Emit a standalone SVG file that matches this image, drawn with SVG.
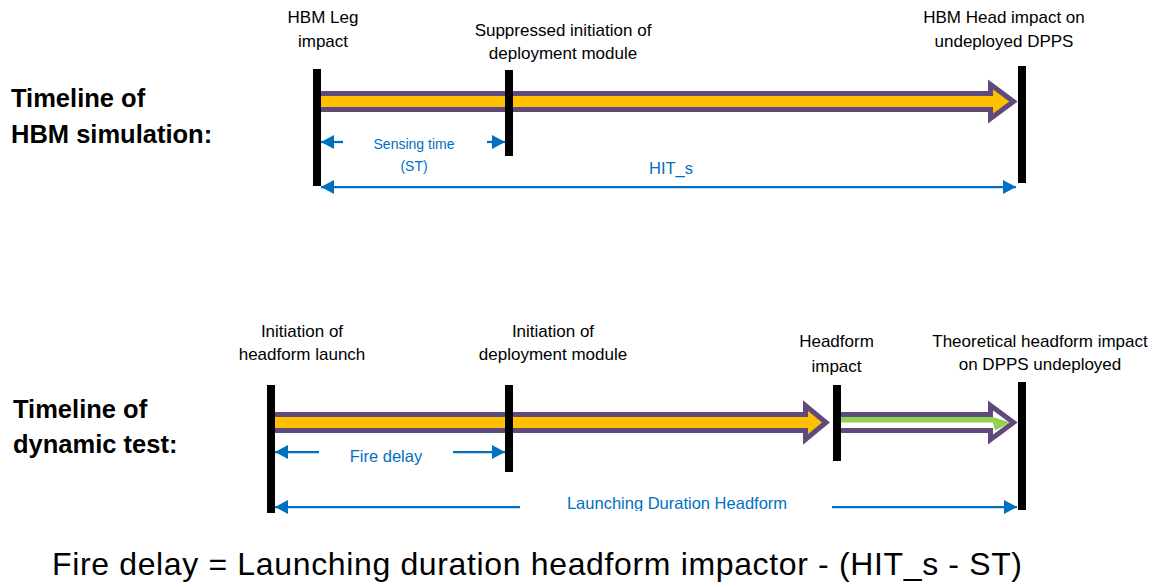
<svg xmlns="http://www.w3.org/2000/svg" width="1159" height="587" viewBox="0 0 1159 587">
  <style>
    .lbl { font-family: "Liberation Sans", Arial, sans-serif; font-size: 17px; fill: #000; text-anchor: middle; }
    .title { font-family: "Liberation Sans", Arial, sans-serif; font-size: 25.5px; font-weight: bold; fill: #000; }
    .dim { font-family: "Liberation Sans", Arial, sans-serif; fill: #0070C0; text-anchor: middle; }
    .bar { fill: #000; }
    .band { stroke: #604A7B; stroke-width: 5; stroke-linejoin: miter; stroke-miterlimit: 10; }
    .dline { stroke: #0070C0; stroke-width: 2.25; fill: none; }
    .eq { font-family: "Liberation Sans", Arial, sans-serif; font-size: 32px; fill: #000; }
  </style>
  <defs>
    <marker id="ah" viewBox="0 0 13 14" refX="13" refY="7" markerWidth="13" markerHeight="14" markerUnits="userSpaceOnUse" orient="auto-start-reverse">
      <path d="M0,0 L13,7 L0,14 Z" fill="#0070C0"/>
    </marker>
    <clipPath id="clipLD">
      <rect x="0" y="0" width="1159" height="511"/>
    </clipPath>
  </defs>
  <rect width="1159" height="587" fill="#fff"/>

  <!-- Titles -->
  <g id="title-hbm">
    <text class="title" x="11" y="107">Timeline of</text>
    <text class="title" x="11" y="143">HBM simulation:</text>
  </g>
  <g id="title-dynamic">
    <text class="title" x="13" y="418">Timeline of</text>
    <text class="title" x="13" y="453">dynamic test:</text>
  </g>

  <!-- Connectors: timeline bands and dimension arrows -->
  <g id="connectors">
    <!-- HBM band -->
    <path class="band" fill="#FFC000" d="M318,93.5 H990.5 V84.5 L1013.5,101.5 L990.5,118.5 V109.5 H318 Z"/>
    <!-- dynamic test: yellow band -->
    <path class="band" fill="#FFC000" d="M272,414.5 H805.5 V405.5 L826,422.5 L805.5,439.5 V430.5 H272 Z"/>
    <!-- dynamic test: green band -->
    <path class="band" fill="#FFFFFF" d="M836,414.5 H990.5 V405.5 L1013.5,422.5 L990.5,439.5 V430.5 H836 Z"/>
    <polygon fill="#92D050" points="841,417 993,417 1010,422.5 995,430.5 993,422.5 841,422.5"/>

    <!-- Sensing time -->
    <line class="dline" x1="343" y1="142" x2="321" y2="142" marker-end="url(#ah)"/>
    <line class="dline" x1="487" y1="142" x2="505" y2="142" marker-end="url(#ah)"/>
    <!-- HIT_s -->
    <line class="dline" x1="321" y1="187" x2="1016" y2="187" marker-start="url(#ah)" marker-end="url(#ah)"/>
    <!-- Fire delay -->
    <line class="dline" x1="319" y1="452" x2="275" y2="452" marker-end="url(#ah)"/>
    <line class="dline" x1="453" y1="452" x2="505" y2="452" marker-end="url(#ah)"/>
    <!-- Launching duration -->
    <line class="dline" x1="520" y1="507" x2="275" y2="507" marker-end="url(#ah)"/>
    <line class="dline" x1="832" y1="507" x2="1017" y2="507" marker-end="url(#ah)"/>
  </g>

  <!-- HBM timeline events -->
  <g id="ev-hbm-leg">
    <rect class="bar" x="313" y="69" width="8" height="117"/>
    <text class="lbl" x="323" y="23">HBM Leg</text>
    <text class="lbl" x="323" y="47">impact</text>
  </g>
  <g id="ev-suppressed">
    <rect class="bar" x="505" y="70" width="8" height="86"/>
    <text class="lbl" x="563" y="36">Suppressed initiation of</text>
    <text class="lbl" x="563" y="59">deployment module</text>
  </g>
  <g id="ev-hbm-head">
    <rect class="bar" x="1018" y="66" width="8" height="117"/>
    <text class="lbl" x="1004" y="23">HBM Head impact on</text>
    <text class="lbl" x="1004" y="47">undeployed DPPS</text>
  </g>

  <!-- Dynamic test events -->
  <g id="ev-launch">
    <rect class="bar" x="267" y="385" width="8" height="128"/>
    <text class="lbl" x="302" y="337">Initiation of</text>
    <text class="lbl" x="302" y="360">headform launch</text>
  </g>
  <g id="ev-deploy">
    <rect class="bar" x="505" y="385" width="8" height="87"/>
    <text class="lbl" x="553" y="337">Initiation of</text>
    <text class="lbl" x="553" y="360">deployment module</text>
  </g>
  <g id="ev-headform-impact">
    <rect class="bar" x="833" y="385" width="8" height="76"/>
    <text class="lbl" x="836.5" y="347">Headform</text>
    <text class="lbl" x="836.5" y="372">impact</text>
  </g>
  <g id="ev-theoretical">
    <rect class="bar" x="1018" y="382" width="8" height="128"/>
    <text class="lbl" x="1040" y="347">Theoretical headform impact</text>
    <text class="lbl" x="1040" y="370">on DPPS undeployed</text>
  </g>

  <!-- Dimension labels -->
  <g id="dim-labels">
    <text class="dim" x="414" y="149" font-size="14">Sensing time</text>
    <text class="dim" x="414" y="171" font-size="14">(ST)</text>
    <text class="dim" x="671" y="174" font-size="16.5">HIT_s</text>
    <text class="dim" x="386" y="462" font-size="16.5">Fire delay</text>
    <text class="dim" x="677" y="509" font-size="16.5" clip-path="url(#clipLD)">Launching Duration Headform</text>
  </g>

  <!-- Equation -->
  <text id="equation" class="eq" x="52" y="575" textLength="970" lengthAdjust="spacing">Fire delay = Launching duration headform impactor - (HIT_s - ST)</text>
</svg>
